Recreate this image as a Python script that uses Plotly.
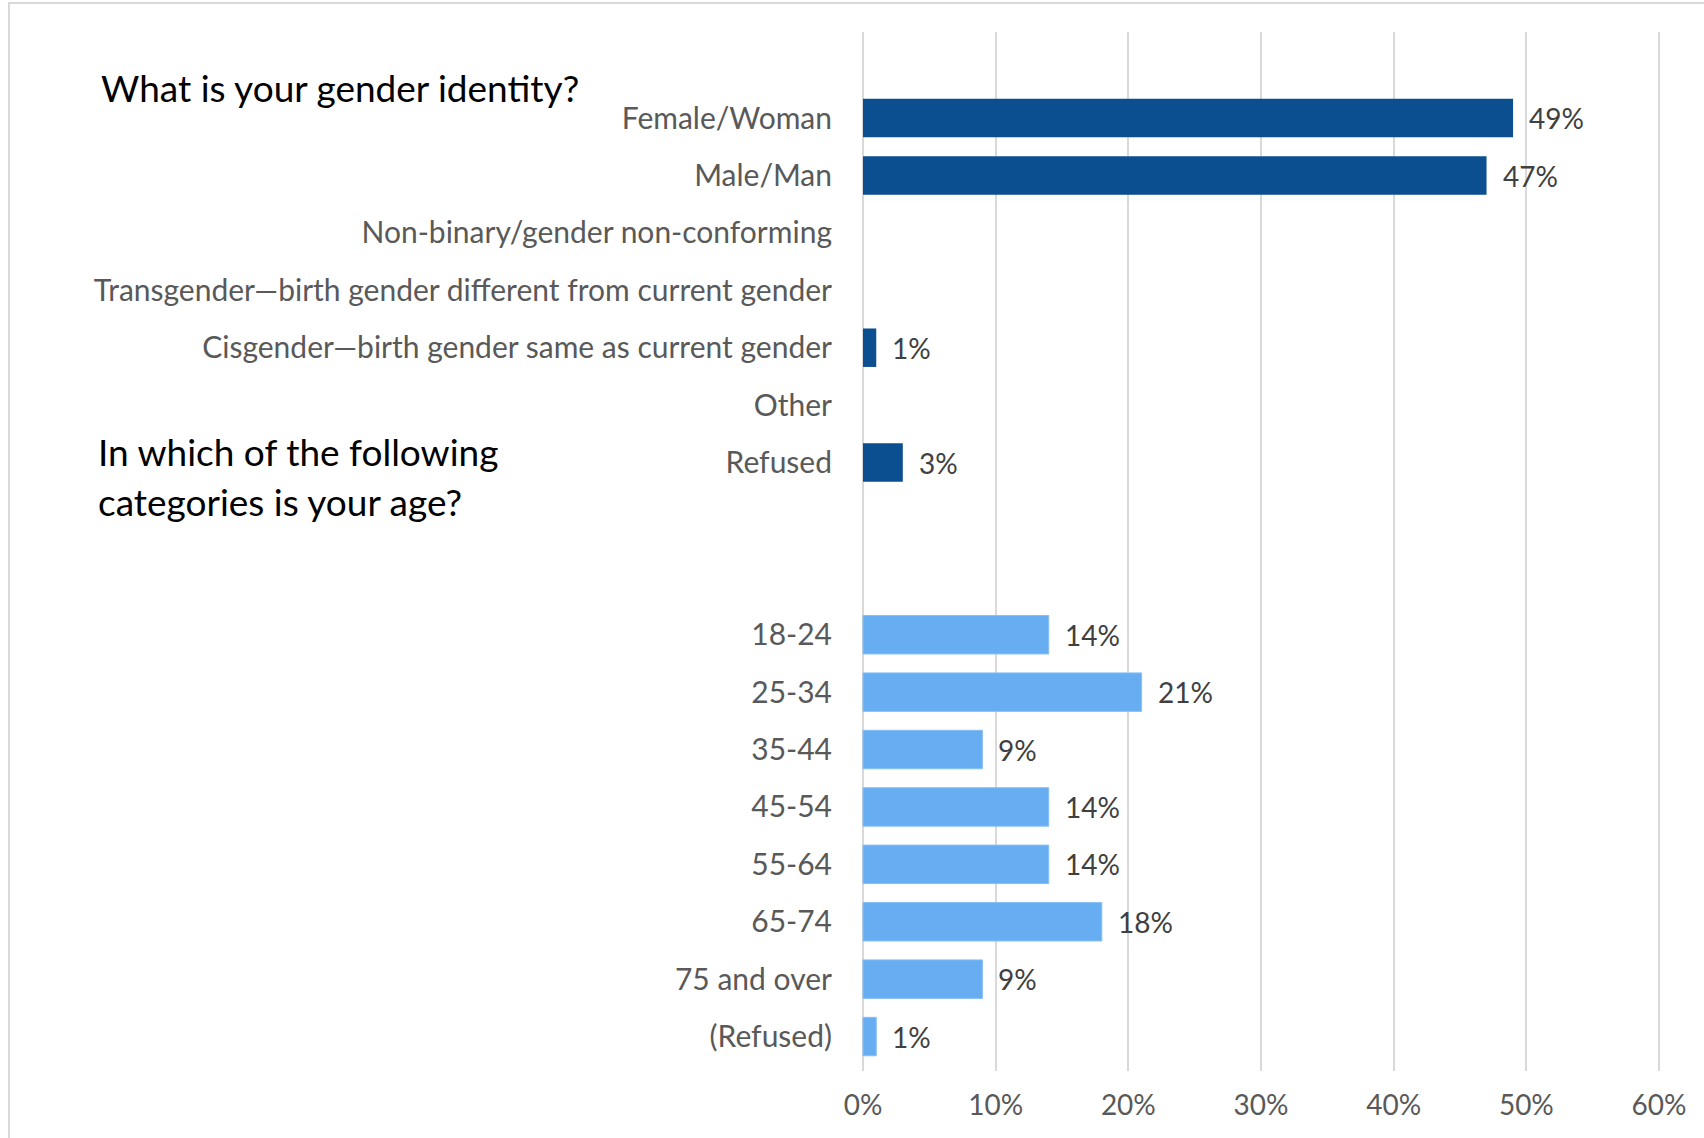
import plotly.graph_objects as go

# ---- data ----
gender_labels = ["Female/Woman", "Male/Man", "Non-binary/gender non-conforming",
                 "Transgender\u2014birth gender different from current gender",
                 "Cisgender\u2014birth gender same as current gender", "Other", "Refused"]
gender_values = [49, 47, None, None, 1, None, 3]

age_labels = ["18-24", "25-34", "35-44", "45-54", "55-64", "65-74", "75 and over", "(Refused)"]
age_values = [14, 21, 9, 14, 14, 18, 9, 1]

x_ticks = [0, 10, 20, 30, 40, 50, 60]
x_tick_labels = ["0%", "10%", "20%", "30%", "40%", "50%", "60%"]

title_gender = "What is your gender identity?"
title_age = ["In which of the following", "categories is your age?"]

# ---- layout constants ----
W, H = 1704, 1138
PL, PR, PT, PB = 861, 1661, 32, 1071
FONT = "Lato, 'Open Sans', 'Liberation Sans', sans-serif"
DARK = "#0B4F91"
LIGHT = "#66ADF2"
GRID = "#D9D9D9"

row_order = ["_gap0"] + gender_labels + ["_gap1", "_gap2"] + age_labels


def px_to_paper_x(px):
    return (px - PL) / (PR - PL)


def px_to_paper_y(py):
    return (PB - py) / (PB - PT)


fig = go.Figure()
fig.add_trace(go.Bar(
    y=gender_labels, x=gender_values, orientation="h",
    marker=dict(color=DARK, line=dict(width=0)), showlegend=False, hoverinfo="x+y",
))
fig.add_trace(go.Bar(
    y=age_labels, x=age_values, orientation="h",
    marker=dict(color=LIGHT, line=dict(color="#86BFF5", width=1)), showlegend=False, hoverinfo="x+y",
))

annotations = []
for labels, values in ((gender_labels, gender_values), (age_labels, age_values)):
    for lab, v in zip(labels, values):
        if v is None:
            continue
        annotations.append(dict(
            x=v, y=lab, xref="x", yref="y", text=f"{v}%", showarrow=False,
            xanchor="left", yanchor="middle", xshift=14,
            font=dict(family=FONT, size=28, color="#404040"),
        ))

annotations.append(dict(
    x=px_to_paper_x(99), y=px_to_paper_y(87), xref="paper", yref="paper",
    text=title_gender, showarrow=False, xanchor="left", yanchor="middle",
    font=dict(family=FONT, size=37, color="#000000"),
))
for i, line in enumerate(title_age):
    annotations.append(dict(
        x=px_to_paper_x(96), y=px_to_paper_y(452 + 49 * i), xref="paper", yref="paper",
        text=line, showarrow=False, xanchor="left", yanchor="middle",
        font=dict(family=FONT, size=37, color="#000000"),
    ))

fig.update_layout(
    width=W, height=H,
    margin=dict(l=PL, r=W - PR, t=PT, b=H - PB, autoexpand=False),
    paper_bgcolor="white", plot_bgcolor="white",
    barmode="overlay", bargap=0.33,
    font=dict(family=FONT, color="#595959"),
    annotations=annotations,
    shapes=[dict(
        type="rect", xref="paper", yref="paper",
        x0=px_to_paper_x(9), x1=px_to_paper_x(W + 20),
        y0=px_to_paper_y(H + 20), y1=px_to_paper_y(3),
        line=dict(color=GRID, width=2), layer="below",
    )],
    xaxis=dict(
        range=[-0.15, 60.15], tickvals=x_ticks, ticktext=x_tick_labels,
        showgrid=True, gridcolor=GRID, gridwidth=2,
        zeroline=True, zerolinecolor=GRID, zerolinewidth=2,
        showline=False, ticks="",
        tickfont=dict(family=FONT, size=28, color="#595959"),
        ticklabelstandoff=15,
    ),
    yaxis=dict(
        type="category", categoryorder="array", categoryarray=row_order,
        range=[len(row_order) - 0.4, -0.5],
        tickmode="array", tickvals=gender_labels + age_labels, ticktext=gender_labels + age_labels,
        showgrid=False, zeroline=False, showline=False, ticks="",
        tickfont=dict(family=FONT, size=30, color="#595959"),
        ticklabelstandoff=28,
    ),
)

fig.write_html("out.html", config={"displayModeBar": False},
               post_script="document.body.style.margin='0';")
